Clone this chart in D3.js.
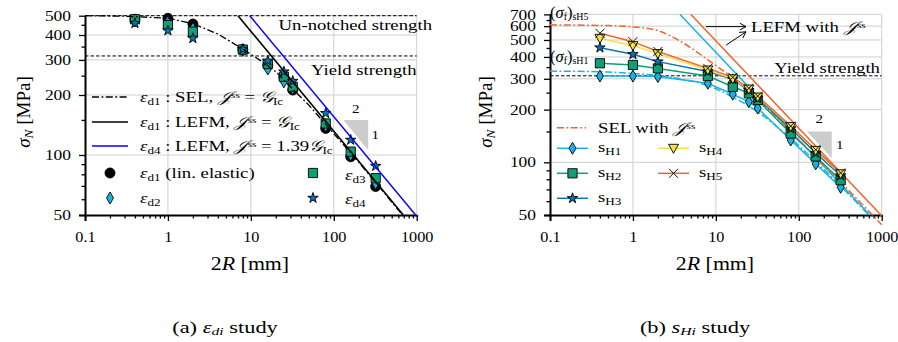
<!DOCTYPE html>
<html>
<head>
<meta charset="utf-8">
<script src="https://cdn.jsdelivr.net/npm/d3@7"></script>
<style>
  body { margin: 0; background: #fff; }
  text { font-family: "Liberation Serif", "DejaVu Serif", serif; fill: #000; }
</style>
</head>
<body>
<div id="chart"></div>
<script>
// ---- data ----
const sizes = [0.4, 1, 2, 8, 16, 25, 32, 80, 160, 320];   // 2R [mm]

// (a) eps_di study
const ed1 = [480, 485, 454, 338, 282, 245, 212, 136, 98, 69.5];
const ed2 = [470, 468, 432, 335, 270, 233, 215, 140, 100, 72];
const ed3 = [480, 449, 416, 338, 286, 247, 220, 144, 104, 76.5];
const ed4 = [458, 421, 385, 340, 297, 262, 235, 162, 119, 88];
const selD1 = [[0.1, 500], [0.3, 497], [1, 486], [2, 456], [4, 405], [8, 340], [15, 287], [20, 262],
               [30, 220], [50, 178], [100, 128], [200, 92], [400, 65], [700, 49]];
const lefmD1 = [[7, 500], [690, 50]];
const lefmD4 = [[9.7, 500], [1000, 49.3]];
const unnotched = 500, yieldA = 314;

// (b) s_Hi study
const sH1 = [311, 311, 309, 283, 245, 222, 204, 134, 98, 72];
const sH2 = [368, 360, 344, 311, 270, 248, 227, 146, 108, 79];
const sH3 = [452, 414, 376, 330, 298, 258, 232, 156, 113, 84];
const sH4 = [511, 464, 418, 337, 300, 262, 236, 160, 117, 86];
const sH5 = [546, 489, 430, 344, 306, 265, 239, 161, 118, 87];
const selH1 = [[0.1, 332], [0.5, 328], [1, 322], [2, 313], [4, 298], [8, 274], [16, 236], [32, 194],
               [80, 137], [160, 101], [320, 73], [700, 50]];
const selH5 = [[0.1, 610], [0.5, 604], [1, 594], [2, 565], [4, 482], [8, 385], [16, 303], [32, 230],
               [80, 150], [160, 107], [320, 77], [1000, 44]];
const lefmH1 = [[3.7, 700], [720, 50]];
const lefmH5 = [[5, 700], [1000, 49.5]];
const yieldB = 312;

const xMajor = [0.1, 1, 10, 100, 1000];
const xMinor = [0.1, 1, 10, 100].flatMap(d => [2, 3, 4, 5, 6, 7, 8, 9].map(k => d * k));
const yMajorA = [50, 100, 200, 300, 400, 500];
const yMinorA = [60, 70, 80, 90, 150, 250, 350, 450];
const yMajorB = [50, 100, 200, 300, 400, 500, 600, 700];
const yMinorB = [60, 70, 80, 90, 150, 250, 350, 450, 550, 650];

const C = { h1: "#1ab2e6", h2: "#0d9f76", h3: "#0b72b4", h4: "#f3e13f", h5: "#ef652f" };
const SX = 1.25; // glyphs in the figure look horizontally stretched
const DASHDOT = "7,2.5,1.8,2.5";

const svg = d3.select("#chart").append("svg")
  .attr("width", 898).attr("height", 342)
  .style("background", "#fff");

// rich text: parts = [text, kind] kind in i / sub / isub / sup / s
function rich(g, x, y, parts, size, anchor, sx = SX, subK = 0.7) {
  const t = g.append("text")
    .attr("transform", `translate(${x},${y}) scale(${sx},1)`)
    .attr("font-size", size)
    .attr("text-anchor", anchor || "start");
  parts.forEach(p => {
    const s = t.append("tspan").text(p[0]);
    const k = p[1] || "";
    if (k.includes("i")) s.attr("font-style", "italic");
    if (k.includes("sub")) s.attr("font-size", size * subK).attr("baseline-shift", "-22%");
    if (k.includes("sup")) s.attr("font-size", size * 0.6).attr("baseline-shift", "45%");
    if (k === "s") s.style("font-family", "'DejaVu Sans', serif").attr("font-style", "italic");
  });
  return t;
}

function thinDiamond(w, h) {
  return `M0,${-h / 2}L${w / 2},0L0,${h / 2}L${-w / 2},0Z`;
}
function triDown(s) {
  return `M${-s / 2},${-s * 0.4}L${s / 2},${-s * 0.4}L0,${s * 0.5}Z`;
}
function marker(g, type, x, y, fill) {
  let p;
  if (type === "circle") p = g.append("circle").attr("r", 5).attr("cx", x).attr("cy", y);
  else {
    let d;
    if (type === "diamond") d = thinDiamond(7, 12);
    if (type === "square") d = d3.symbol().type(d3.symbolSquare).size(85)();
    if (type === "star") d = d3.symbol().type(d3.symbolStar).size(34)();
    if (type === "tri") d = triDown(10);
    if (type === "x") d = "M-4.5,-4.5L4.5,4.5M-4.5,4.5L4.5,-4.5";
    p = g.append("path").attr("d", d).attr("transform", `translate(${x},${y})`);
  }
  if (type === "x") p.attr("fill", "none").attr("stroke", "#111").attr("stroke-width", 1);
  else p.attr("fill", fill).attr("stroke", "#000").attr("stroke-width", 0.9);
}

function panel(x0, x1, yTop, yMax, yMajor, yMinor) {
  const x = d3.scaleLog().domain([0.1, 1000]).range([x0, x1]);
  const y = d3.scaleLog().domain([50, yMax]).range([215, yTop]);
  const g = svg.append("g");
  // grid
  g.selectAll(".gx").data([1, 10, 100, 1000]).join("line")
    .attr("x1", d => x(d)).attr("x2", d => x(d)).attr("y1", y(50)).attr("y2", y(yMax))
    .attr("stroke", "#cfcfcf").attr("stroke-width", 1);
  g.selectAll(".gy").data(yMajor.slice(1)).join("line")
    .attr("x1", x0).attr("x2", x1).attr("y1", d => y(d)).attr("y2", d => y(d))
    .attr("stroke", "#cfcfcf").attr("stroke-width", 1);
  // axes
  const ax = g.append("g").attr("transform", "translate(0,215)")
    .call(d3.axisBottom(x).tickValues(xMajor).tickFormat(d => d3.format("~g")(d)).tickSize(6));
  g.append("g").attr("transform", "translate(0,215)")
    .call(d3.axisBottom(x).tickValues(xMinor).tickFormat("").tickSize(3.5))
    .call(a => a.select(".domain").remove());
  const ay = g.append("g").attr("transform", `translate(${x0},0)`)
    .call(d3.axisLeft(y).tickValues(yMajor).tickFormat(d3.format("d")).tickSize(6));
  g.append("g").attr("transform", `translate(${x0},0)`)
    .call(d3.axisLeft(y).tickValues(yMinor).tickFormat("").tickSize(3.5))
    .call(a => a.select(".domain").remove());
  g.selectAll(".domain").attr("stroke-width", 2).attr("d", function () { return d3.select(this).attr("d").replace(/V6|V-6|H-6|H6/g, m => m[0] + "0"); });
  g.selectAll(".tick line").attr("stroke-width", 1.3);
  ax.selectAll("text").attr("font-size", 14.5).attr("font-family", "Liberation Serif")
    .attr("transform", "scale(1.12,1)").attr("y", 22).attr("dy", "0.32em").attr("x", 0);
  ay.selectAll("text").attr("font-size", 14.5).attr("font-family", "Liberation Serif")
    .attr("transform", "translate(-14,0) scale(1.2,1)").attr("x", 0);
  g.selectAll(".tick text").attr("fill", "#000");
  return { g, x, y };
}

const line = (x, y) => d3.line().x(d => x(d[0])).y(d => y(d[1]));

// ================= (a) =================
const A = panel(85, 416.7, 15.7, 500, yMajorA, yMinorA);
{
  const { g, x, y } = A;
  [unnotched, yieldA].forEach(v => g.append("line")
    .attr("x1", x(0.1)).attr("x2", x(1000)).attr("y1", y(v)).attr("y2", y(v))
    .attr("stroke", "#000").attr("stroke-width", 1).attr("stroke-dasharray", "3.5,2"));
  rich(g, 432, 30, [["Un-notched strength"]], 15, "end");
  rich(g, 416.7, 75, [["Yield strength"]], 15, "end");
  // slope triangle
  g.append("path").datum([[130, 150], [260, 150], [260, 106]]).attr("d", d => line(x, y)(d) + "Z")
    .attr("fill", "#cccccc");
  rich(g, x(184), y(150) - 7, [["2"]], 12, "middle");
  rich(g, x(260) + 7, y(126) + 4, [["1"]], 12, "middle");

  const gc = g.append("g");
  sizes.forEach((s, i) => marker(gc, "circle", x(s), y(ed1[i]), "#000"));
  sizes.forEach((s, i) => marker(gc, "diamond", x(s), y(ed2[i]), C.h1));
  sizes.forEach((s, i) => marker(gc, "square", x(s), y(ed3[i]), C.h2));
  sizes.forEach((s, i) => marker(gc, "star", x(s), y(ed4[i]), C.h3));

  g.append("path").datum(selD1).attr("d", line(x, y)).attr("fill", "none")
    .attr("stroke", "#000").attr("stroke-width", 1.3).attr("stroke-dasharray", DASHDOT);
  g.append("path").datum(lefmD1).attr("d", line(x, y)).attr("fill", "none")
    .attr("stroke", "#000").attr("stroke-width", 1.6);
  g.append("path").datum(lefmD4).attr("d", line(x, y)).attr("fill", "none")
    .attr("stroke", "#0000ff").attr("stroke-width", 1.4);

  // legend
  const L = g.append("g");
  const rowsL = [
    { y: 97, stroke: "#000", dash: DASHDOT, parts: [["ε", "i"], ["d1", "sub"], [" : SEL, "], ["𝒥", "s"], ["ss", "sup"], [" = "], ["𝒢", "s"], ["Ic", "sub"]] },
    { y: 122, stroke: "#000", dash: null, parts: [["ε", "i"], ["d1", "sub"], [" : LEFM, "], ["𝒥", "s"], ["ss", "sup"], [" = "], ["𝒢", "s"], ["Ic", "sub"]] },
    { y: 146, stroke: "#0000ff", dash: null, parts: [["ε", "i"], ["d4", "sub"], [" : LEFM, "], ["𝒥", "s"], ["ss", "sup"], [" = 1.39"], ["𝒢", "s"], ["Ic", "sub"]] }
  ];
  rowsL.forEach(r => {
    L.append("line").attr("x1", 92).attr("x2", 128).attr("y1", r.y).attr("y2", r.y)
      .attr("stroke", r.stroke).attr("stroke-width", 1.6).attr("stroke-dasharray", r.dash);
    rich(L, 140, r.y + 5, r.parts, 15);
  });
  marker(L, "circle", 110, 173, "#000");
  rich(L, 140, 178, [["ε", "i"], ["d1", "sub"], [" (lin. elastic)"]], 15);
  marker(L, "diamond", 110, 198, C.h1);
  rich(L, 140, 203, [["ε", "i"], ["d2", "sub"]], 15);
  marker(L, "square", 313, 173, C.h2);
  rich(L, 345, 180, [["ε", "i"], ["d3", "sub"]], 15);
  marker(L, "star", 313, 198, C.h3);
  rich(L, 345, 204, [["ε", "i"], ["d4", "sub"]], 15);
}

// ================= (b) =================
const B = panel(550, 881.7, 14.4, 700, yMajorB, yMinorB);
{
  const { g, x, y } = B;
  g.append("line").attr("x1", x(0.1)).attr("x2", x(1000)).attr("y1", y(yieldB)).attr("y2", y(yieldB))
    .attr("stroke", "#000").attr("stroke-width", 1).attr("stroke-dasharray", "3.5,2");
  rich(g, 880, 73, [["Yield strength"]], 15, "end");
  g.append("path").datum([[125, 150], [250, 150], [250, 106]]).attr("d", d => line(x, y)(d) + "Z")
    .attr("fill", "#cccccc");
  rich(g, x(177), y(150) - 8, [["2"]], 12, "middle");
  rich(g, x(250) + 8, y(126) + 4, [["1"]], 12, "middle");

  // theory curves
  [[lefmH1, C.h1], [lefmH5, C.h5]].forEach(([d, c]) => g.append("path").datum(d).attr("d", line(x, y))
    .attr("fill", "none").attr("stroke", c).attr("stroke-width", 1.5));
  [[selH1, C.h1], [selH5, C.h5]].forEach(([d, c]) => g.append("path").datum(d).attr("d", line(x, y).curve(d3.curveMonotoneX))
    .attr("fill", "none").attr("stroke", c).attr("stroke-width", 1.5).attr("stroke-dasharray", DASHDOT));

  const series = [[sH1, C.h1, "diamond"], [sH2, C.h2, "square"], [sH3, C.h3, "star"], [sH4, C.h4, "tri"], [sH5, C.h5, "x"]];
  series.forEach(([v, c]) => g.append("path").datum(sizes.map((s, i) => [s, v[i]])).attr("d", line(x, y))
    .attr("fill", "none").attr("stroke", c).attr("stroke-width", 1.5));
  series.forEach(([v, c, m]) => sizes.forEach((s, i) => marker(g, m, x(s), y(v[i]), c)));

  rich(g, 550, 18, [["("], ["σ", "i"], ["f", "sub"], [")"], ["sH5", "sub"]], 16.5, "start", 1, 0.6);
  rich(g, 550, 62, [["("], ["σ", "i"], ["f", "sub"], [")"], ["sH1", "sub"]], 16.5, "start", 1, 0.6);

  // LEFM arrows
  const arrows = [[[7.6, 596], [23.1, 596]], [[13.3, 467], [23.1, 557]]];
  arrows.forEach(([a, b]) => {
    const x1 = x(a[0]), y1 = y(a[1]), x2 = x(b[0]), y2 = y(b[1]);
    const ang = Math.atan2(y2 - y1, x2 - x1), h = 7;
    g.append("path").attr("fill", "none").attr("stroke", "#000").attr("stroke-width", 1)
      .attr("d", `M${x1},${y1}L${x2},${y2}M${x2 - h * Math.cos(ang - 0.5)},${y2 - h * Math.sin(ang - 0.5)}L${x2},${y2}L${x2 - h * Math.cos(ang + 0.5)},${y2 - h * Math.sin(ang + 0.5)}`);
  });
  rich(g, x(26.5), y(596) + 5, [["LEFM with "], ["𝒥", "s"], ["ss", "sup"]], 15);

  // legend
  const L = g.append("g");
  L.append("line").attr("x1", 557).attr("x2", 586).attr("y1", 127.7).attr("y2", 127.7)
    .attr("stroke", C.h5).attr("stroke-width", 1.5).attr("stroke-dasharray", DASHDOT);
  rich(L, 598, 133, [["SEL with "], ["𝒥", "s"], ["ss", "sup"]], 15);
  const rowsB = [
    [557, 148.3, C.h1, "diamond", "H1"], [557, 173.3, C.h2, "square", "H2"], [557, 198.3, C.h3, "star", "H3"],
    [658, 148.3, C.h4, "tri", "H4"], [658, 173.3, C.h5, "x", "H5"]
  ];
  rowsB.forEach(([lx, ly, c, m, lab]) => {
    L.append("line").attr("x1", lx).attr("x2", lx + 31).attr("y1", ly).attr("y2", ly)
      .attr("stroke", c).attr("stroke-width", 1.5);
    marker(L, m, lx + 15.5, ly, c);
    rich(L, lx + 41, ly + 4, [["s"], [lab, "sub"]], 15);
  });
}

// axis labels and captions
[[250, 30], [715, 492]].forEach(([cx, ly]) => {
  rich(svg, cx, 270, [["2"], ["R", "i"], [" [mm]"]], 19, "middle", 1.15);
  svg.append("text").attr("transform", `translate(${ly},112) rotate(-90)`).attr("text-anchor", "middle")
    .attr("font-size", 19)
    .call(t => {
      t.append("tspan").text("σ").attr("font-style", "italic");
      t.append("tspan").text("N").attr("font-style", "italic").attr("font-size", 13.3).attr("baseline-shift", "-22%");
      t.append("tspan").text(" [MPa]");
    });
});
rich(svg, 225, 333, [["(a) "], ["ε", "i"], ["di", "isub"], [" study"]], 16, "middle", 1.4);
rich(svg, 695, 333, [["(b) "], ["s", "i"], ["Hi", "isub"], [" study"]], 16, "middle", 1.4);
</script>
</body>
</html>
